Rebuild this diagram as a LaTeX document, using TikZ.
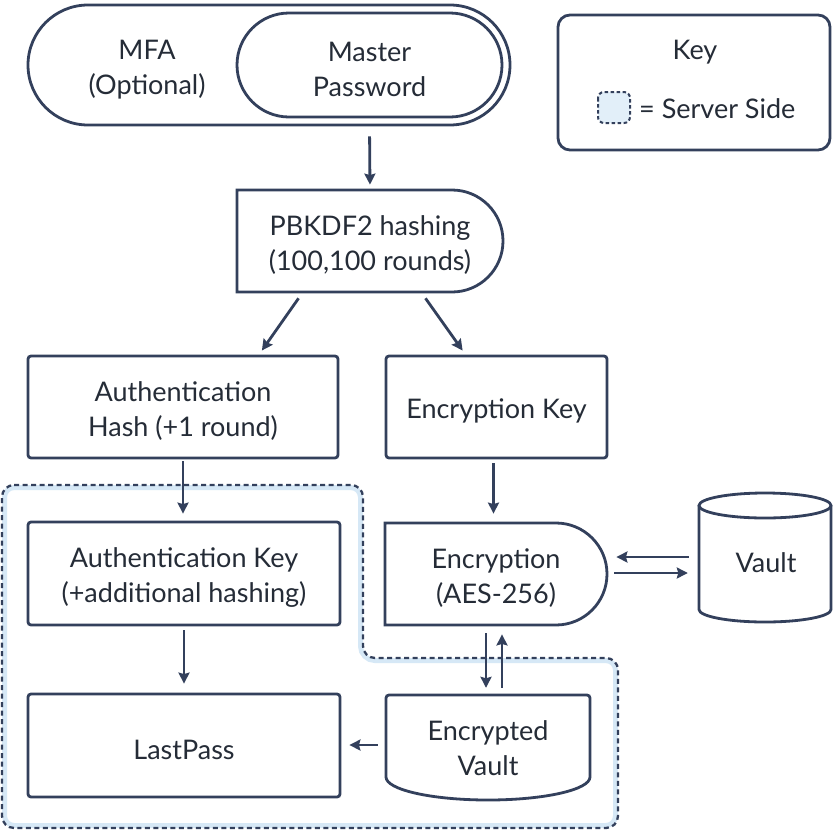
\documentclass[tikz,border=0pt]{standalone}
\usepackage{fontspec}
\setmainfont{Lato}
\usetikzlibrary{shapes.misc,arrows.meta}
\definecolor{ln}{HTML}{33405C}
\definecolor{tx}{HTML}{252C37}
\definecolor{lb}{HTML}{D6E8F6}
\tikzset{
  txt/.style={inner sep=0pt, align=center, text=tx, font=\fontsize{27}{35}\selectfont},
  lbl/.style={label={[txt, yshift=-4pt]center:#1}},
  box/.style={draw=ln, line width=2.8pt, fill=white, rounded corners=3pt, inner sep=0pt},
  pill/.style={draw=ln, line width=2.8pt, fill=white, rounded rectangle, inner sep=0pt},
  dshape/.style={pill, rounded rectangle west arc=none},
  outl/.style={draw=ln, line width=2.8pt, fill=white},
  arr/.style={draw=ln, line width=2.8pt, -{Stealth[length=11pt,width=11pt,inset=1.5pt]}},
  srv/.style={rounded corners=12pt},
}
\begin{document}
\begin{tikzpicture}[x=1pt,y=-1pt]
\useasboundingbox (0,0) rectangle (840,833);
% server side region
\begin{scope}
  \clip[srv] (2,485) -- (363,485) -- (363,658) -- (618,658) -- (618,828) -- (2,828) -- cycle;
  \fill[white] (0,0) rectangle (840,833);
  \draw[lb, line width=10pt, srv] (2,485) -- (363,485) -- (363,658) -- (618,658) -- (618,828) -- (2,828) -- cycle;
\end{scope}
\draw[ln, line width=2.3pt, dash pattern=on 5pt off 3.5pt, srv] (2,485) -- (363,485) -- (363,658) -- (618,658) -- (618,828) -- (2,828) -- cycle;

% top pills
\node[pill, minimum width=482pt, minimum height=120pt] (mfa) at (269,65) {};
\node[txt] (mfatxt) at (147,70) {MFA\\(Optional)};
\node[pill, minimum width=265pt, minimum height=104pt, lbl={Master\\Password}] (pw) at (369.5,65) {};

% key
\node[box, rounded corners=12pt, minimum width=272pt, minimum height=135pt] (keybox) at (694,82.5) {};
\node[txt] (keytitle) at (695,52) {Key};
\draw[ln, line width=2pt, dash pattern=on 3.5pt off 2.5pt, rounded corners=6pt, fill=lb!70] (598,92) rectangle (630,123);
\node[txt, anchor=west] (keyline) at (639,108.5) {= Server Side};

% flow boxes
\node[dshape, minimum width=266pt, minimum height=102pt, lbl={PBKDF2 hashing\\(100,100 rounds)}] (pbkdf) at (370,241) {};
\node[box, minimum width=310pt, minimum height=102pt, lbl={Authentication\\Hash (+1 round)}] (authhash) at (183,407) {};
\node[box, minimum width=221pt, minimum height=102pt, lbl={Encryption Key}] (enckey) at (496.5,407) {};
\node[box, minimum width=312pt, minimum height=103pt, lbl={Authentication Key\\(+additional hashing)}] (authkey) at (184,573.5) {};
\node[box, minimum width=312pt, minimum height=103pt, lbl={LastPass}] (lastpass) at (184,745.5) {};
\node[dshape, minimum width=222pt, minimum height=102pt, lbl={Encryption\\(AES-256)}] (encr) at (496,574) {};

% vault cylinder
\fill[white] (699,505.5) -- (699,609.5) arc[start angle=180, end angle=0, x radius=66, y radius=12.5] -- (831,505.5) arc[start angle=0, end angle=-180, x radius=66, y radius=12.5] -- cycle;
\draw[ln, line width=2.8pt] (699,505.5) -- (699,609.5) arc[start angle=180, end angle=0, x radius=66, y radius=12.5] -- (831,505.5);
\draw[ln, line width=2.8pt] (765,505.5) ellipse [x radius=66, y radius=12.5];
\node[txt, minimum width=132pt] (vault) at (766,563) {Vault};

% encrypted vault
\draw[outl] (590,777) {[rounded corners=3pt] -- (590,695) -- (386,695)} -- (386,777) arc[start angle=180, end angle=0, x radius=102, y radius=23] -- cycle;
\node[txt, minimum width=204pt, minimum height=105pt] (encvault) at (488,748.5) {Encrypted\\Vault};

% connectors
\draw[arr, shorten <=10pt, shorten >=4pt] (mfa.south -| pw.south) -- (pbkdf.north);
\draw[arr, shorten <=6pt, shorten >=5pt] ([xshift=-68pt]pbkdf.south) -- ([xshift=76pt]authhash.north);
\draw[arr, shorten <=6pt, shorten >=5pt] ([xshift=52pt]pbkdf.south) -- ([xshift=-31pt]enckey.north);
\draw[arr, shorten <=2pt, shorten >=7pt] (authhash.south) -- (authhash.south |- authkey.north);
\draw[arr, shorten <=4pt, shorten >=8pt] ([xshift=-3pt]enckey.south) -- ([xshift=-3pt]enckey.south |- encr.north);
\draw[arr, shorten <=4pt, shorten >=9pt] (authkey.south) -- (authkey.south |- lastpass.north);
\draw[arr, shorten <=7pt, shorten >=8pt] (encr.south -| 486,0) -- (encvault.north -| 486,0);
\draw[arr, shorten <=8pt, shorten >=8pt] (encvault.north -| 502,0) -- (encr.south -| 502,0);
\draw[arr, shorten <=11pt, shorten >=8pt] (vault.west |- 0,557) -- (encr.east |- 0,557);
\draw[arr, shorten <=6pt, shorten >=12pt] (encr.east |- 0,573) -- (vault.west |- 0,573);
\draw[arr, shorten <=8pt, shorten >=8pt] (encvault.west |- 0,745) -- (lastpass.east |- 0,745);
\end{tikzpicture}
\end{document}
